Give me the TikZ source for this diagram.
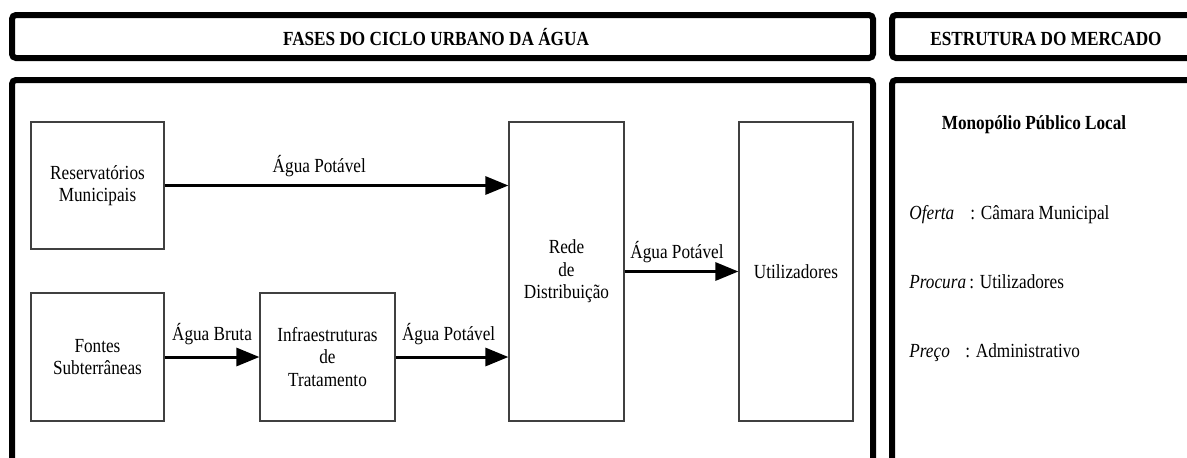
\documentclass[tikz,border=0pt]{standalone}
\usepackage{fontspec}
\setmainfont{Liberation Serif}[FakeStretch=0.86]
\usetikzlibrary{arrows.meta,calc}
\definecolor{CaixaClr}{rgb}{0.25,0.25,0.25}

\begin{document}
\begin{tikzpicture}[x=0.5pt,y=-0.5pt,
  moldura/.style={line width=3pt,rounded corners=2pt},
  caixa/.style={draw=CaixaClr,line width=0.6pt,align=center,inner sep=0pt,font=\fontsize{10}{11.2}\selectfont},
  seta/.style={line width=1.5pt,-{Triangle[length=11.5pt,width=9pt]}},
  rotulo/.style={inner sep=0pt,anchor=base,font=\fontsize{10}{12}\selectfont}]
\useasboundingbox (0,0) rectangle (1187,457);
\clip (0,0) rectangle (1187,457);

% molduras
\draw[moldura] (12,15) rectangle (873,58);
\draw[moldura] (892,15) rectangle (1210,58);
\draw[moldura] (12,80) rectangle (873,480);
\draw[moldura] (892,80) rectangle (1210,480);

\node[rotulo,font=\fontsize{10}{12}\selectfont\bfseries] (T1) at (436,45) {FASES DO CICLO URBANO DA ÁGUA};
\node[rotulo,font=\fontsize{10}{12}\selectfont\bfseries] (T2) at (1046,45) {ESTRUTURA DO MERCADO};

% fases
\node[caixa,minimum width=66.5pt,minimum height=63.5pt] (Res) at (97.5,185.5) {Reservatórios\\Municipais};
\node[caixa,minimum width=66.5pt,minimum height=64pt] (Fon) at (97.5,357) {Fontes\\Subterrâneas};
\node[caixa,minimum width=67.5pt,minimum height=64pt] (Inf) at (327.5,357) {Infraestruturas\\de\\Tratamento};
\node[caixa,minimum width=57.5pt,minimum height=149.5pt] (Rede) at (566.5,271.5) {Rede\\de\\Distribuição};
\node[caixa,minimum width=57pt,minimum height=149.5pt] (Uti) at (796,271.5) {Utilizadores};

\draw[seta] (Res.east) -- (Res.east -| Rede.west) node[rotulo,pos=.45,yshift=6.5pt] {Água Potável};
\draw[seta] (Fon) -- (Inf) node[rotulo,pos=.5,yshift=8.5pt] {Água Bruta};
\draw[seta] (Inf.east) -- (Inf.east -| Rede.west) node[rotulo,pos=.47,yshift=8.5pt] {Água Potável};
\draw[seta] (Rede) -- (Uti) node[rotulo,pos=.46,yshift=6.5pt] {Água Potável};

% mercado
\node[rotulo,font=\fontsize{10}{12}\selectfont\bfseries] (Mon) at (1034,129) {Monopólio Público Local};
\node[rotulo,anchor=base west] (Of) at (909,219) {\textit{Oferta}};
\node[rotulo,anchor=base west] (OfV) at (970,219) {: Câmara Municipal};
\node[rotulo,anchor=base west] (Pro) at (909,288) {\textit{Procura}\,: Utilizadores};
\node[rotulo,anchor=base west] (Pre) at (909,357) {\textit{Preço}};
\node[rotulo,anchor=base west] (PreV) at (965,357) {: Administrativo};

\end{tikzpicture}
\end{document}
